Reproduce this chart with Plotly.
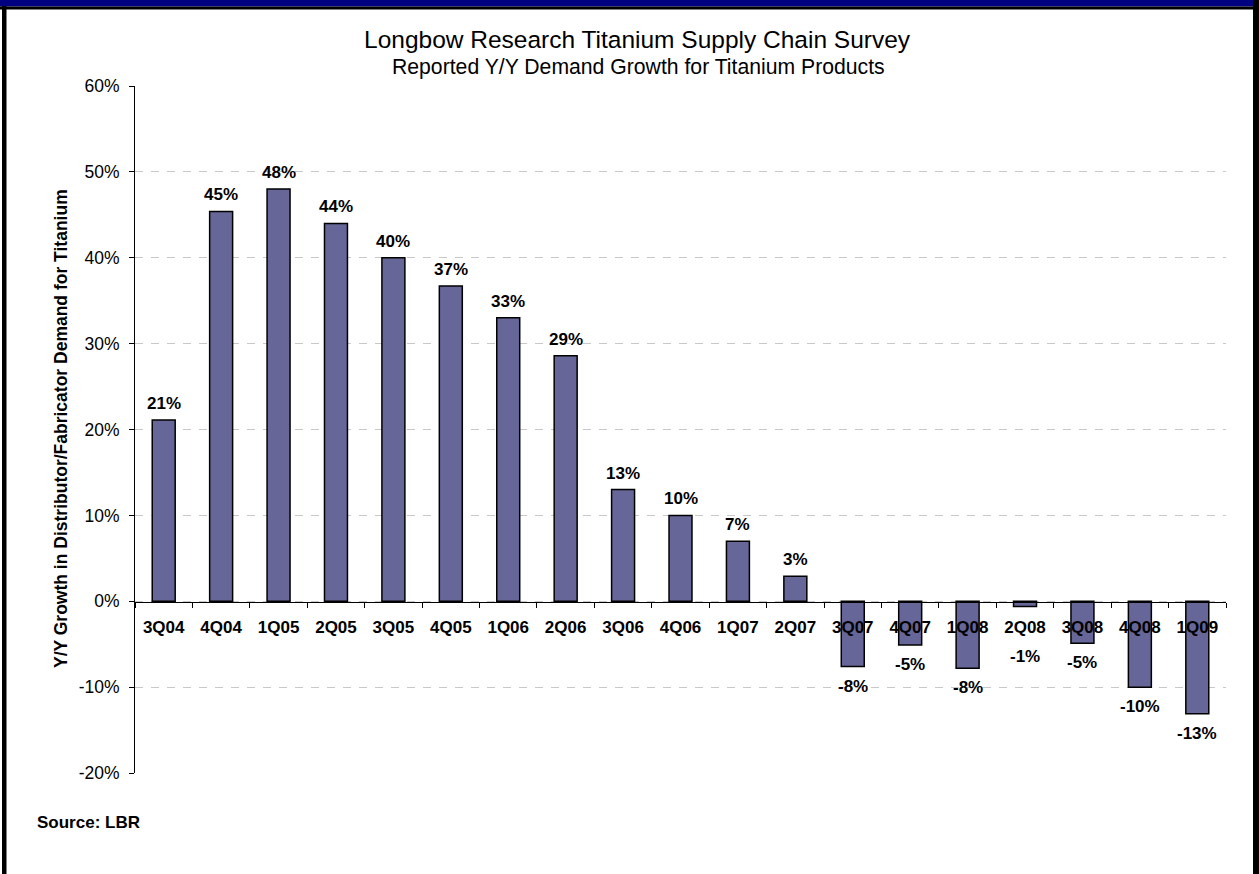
import plotly.graph_objects as go

# ---------------- data ----------------
quarters = ["3Q04", "4Q04", "1Q05", "2Q05", "3Q05", "4Q05", "1Q06", "2Q06",
            "3Q06", "4Q06", "1Q07", "2Q07", "3Q07", "4Q07", "1Q08", "2Q08",
            "3Q08", "4Q08", "1Q09"]
growth_pct = [21.1, 45.4, 48.0, 44.0, 40.0, 36.7, 33.0, 28.6,
              13.0, 10.0, 7.0, 2.9, -7.6, -5.1, -7.8, -0.6,
              -4.9, -10.0, -13.1]
y_ticks = [-20, -10, 0, 10, 20, 30, 40, 50, 60]

title_text = "Longbow Research Titanium Supply Chain Survey"
subtitle_text = "Reported Y/Y Demand Growth for Titanium Products"
y_title_text = "Y/Y Growth in Distributor/Fabricator Demand for Titanium"
source_text = "Source: LBR"

# ---------------- layout geometry (pixels) ----------------
W, H = 1259, 874
L, R, T, B = 135, 1226, 86, 773
FONT = "Liberation Sans, Arial, Helvetica, sans-serif"


def px(x):
    return (x - L) / (R - L)


def py(y):
    return (B - y) / (B - T)


fig = go.Figure()
fig.add_trace(go.Bar(
    x=quarters, y=growth_pct,
    marker=dict(color="#666699", line=dict(color="#000000", width=1.5)),
    hoverinfo="skip",
))

annotations = []
# data labels
for q, v in zip(quarters, growth_pct):
    if v >= 0:
        annotations.append(dict(
            x=q, y=v, xref="x", yref="y", text=f"{round(v):.0f}%",
            showarrow=False, yanchor="bottom", yshift=5,
            font=dict(family=FONT, size=17, color="#000000", weight="bold")))
    elif v > -3:
        # short bar: label sits below the category label row
        annotations.append(dict(
            x=q, y=0, xref="x", yref="y", text=f"{round(v):.0f}%",
            showarrow=False, yanchor="middle", yshift=-55,
            font=dict(family=FONT, size=17, color="#000000", weight="bold")))
    else:
        annotations.append(dict(
            x=q, y=v, xref="x", yref="y", text=f"{round(v):.0f}%",
            showarrow=False, yanchor="top", yshift=-8,
            font=dict(family=FONT, size=17, color="#000000", weight="bold")))

# titles
annotations.append(dict(x=px(637), y=py(40), xref="paper", yref="paper",
                        text=title_text, showarrow=False,
                        xanchor="center", yanchor="middle",
                        font=dict(family=FONT, size=24.5, color="#000000")))
annotations.append(dict(x=px(638), y=py(67), xref="paper", yref="paper",
                        text=subtitle_text, showarrow=False,
                        xanchor="center", yanchor="middle",
                        font=dict(family=FONT, size=21.2, color="#000000")))
annotations.append(dict(x=px(61), y=py(429), xref="paper", yref="paper",
                        text=y_title_text, showarrow=False, textangle=-90,
                        xanchor="center", yanchor="middle",
                        font=dict(family=FONT, size=17.5, color="#000000", weight="bold")))
annotations.append(dict(x=px(35), y=py(822), xref="paper", yref="paper",
                        text=source_text, showarrow=False,
                        xanchor="left", yanchor="middle",
                        font=dict(family=FONT, size=17, color="#000000", weight="bold")))

shapes = [
    # navy top band
    dict(type="rect", xref="paper", yref="paper",
         x0=px(0), x1=px(W), y0=py(0), y1=py(6.5),
         fillcolor="#000080", line=dict(width=0), layer="above"),
    # black frame pieces
    dict(type="rect", xref="paper", yref="paper",
         x0=px(0), x1=px(W), y0=py(6.5), y1=py(9.5),
         fillcolor="#000000", line=dict(width=0), layer="above"),
    dict(type="rect", xref="paper", yref="paper",
         x0=px(2), x1=px(6.5), y0=py(6), y1=py(H),
         fillcolor="#000000", line=dict(width=0), layer="above"),
    dict(type="rect", xref="paper", yref="paper",
         x0=px(1253), x1=px(W), y0=py(0), y1=py(H),
         fillcolor="#000000", line=dict(width=0), layer="above"),
]

fig.update_layout(
    width=W, height=H,
    margin=dict(l=L, r=W - R, t=T, b=H - B, pad=0),
    paper_bgcolor="#ffffff", plot_bgcolor="#ffffff",
    showlegend=False,
    bargap=0.6,
    font=dict(family=FONT, color="#000000"),
    annotations=annotations,
    shapes=shapes,
    xaxis=dict(
        type="category",
        anchor="free", position=py(601.7),
        showline=True, linecolor="#000000", linewidth=1,
        ticks="outside", ticklen=5, tickcolor="#000000", tickwidth=1,
        tickson="boundaries",
        showgrid=False, zeroline=False,
        ticklabelstandoff=10,
        tickfont=dict(family=FONT, size=17, color="#000000", weight="bold"),
    ),
    yaxis=dict(
        range=[-20, 60],
        tickvals=y_ticks,
        ticktext=[f"{t}%" for t in y_ticks],
        showline=True, linecolor="#000000", linewidth=1,
        ticks="outside", ticklen=5, tickcolor="#000000", tickwidth=1,
        showgrid=True, gridcolor="#c8c8c8", gridwidth=1, griddash="8px,8px",
        zeroline=False,
        ticklabelstandoff=6,
        tickfont=dict(family=FONT, size=17.5, color="#000000"),
    ),
)

fig.write_html("out.html")
